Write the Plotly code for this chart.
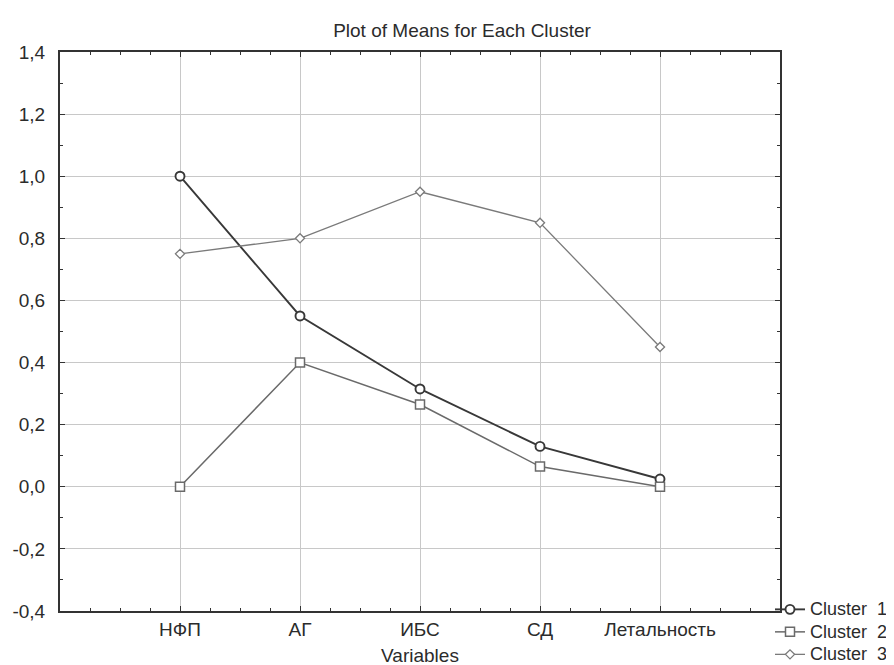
import plotly.graph_objects as go

categories = ["НФП", "АГ", "ИБС", "СД", "Летальность"]
cluster1 = [1.0, 0.55, 0.315, 0.13, 0.025]
cluster2 = [0.0, 0.40, 0.265, 0.065, 0.0]
cluster3 = [0.75, 0.80, 0.95, 0.85, 0.45]
series_names = ["Cluster \u00a01", "Cluster \u00a02", "Cluster \u00a03"]
y_ticks = [-0.4, -0.2, 0.0, 0.2, 0.4, 0.6, 0.8, 1.0, 1.2, 1.4]
y_ticktext = [f"{v:.1f}".replace(".", ",") for v in y_ticks]

xpos = list(range(1, len(categories) + 1))
FONT = "Liberation Sans, Arial, sans-serif"
AX = "#333333"
TXT = "#2b2b2b"
FS = 19
LEG_FS = 18


def legend_label(name):
    return f'<span style="font-size:{LEG_FS}px">{name}</span>'


fig = go.Figure()
fig.add_trace(go.Scatter(
    x=xpos, y=cluster1, name=legend_label(series_names[0]), mode="lines+markers",
    line=dict(color="#383838", width=1.9),
    marker=dict(symbol="circle", size=9, color="white", line=dict(color="#383838", width=1.9)),
))
fig.add_trace(go.Scatter(
    x=xpos, y=cluster2, name=legend_label(series_names[1]), mode="lines+markers",
    line=dict(color="#6a6a6a", width=1.5),
    marker=dict(symbol="square", size=9, color="white", line=dict(color="#6a6a6a", width=1.5)),
))
fig.add_trace(go.Scatter(
    x=xpos, y=cluster3, name=legend_label(series_names[2]), mode="lines+markers",
    line=dict(color="#7a7a7a", width=1.3),
    marker=dict(symbol="diamond", size=7, color="white", line=dict(color="#7a7a7a", width=1.3)),
))

fig.update_layout(
    width=894, height=665,
    margin=dict(l=52, r=122, t=44, b=62, autoexpand=False),
    paper_bgcolor="white", plot_bgcolor="white",
    font=dict(family=FONT, size=FS, color=TXT),
    title=dict(text="Plot of Means for Each Cluster", x=454 / 894, xref="container", xanchor="center",
               y=1 - 22 / 665, yref="container", yanchor="middle",
               font=dict(family=FONT, size=FS, color=TXT)),
    showlegend=True,
    legend=dict(x=(762 - 52) / 720, xanchor="left", y=0.032, yanchor="top", bgcolor="rgba(0,0,0,0)",
                borderwidth=0, font=dict(family=FONT, size=15, color=TXT),
                itemwidth=30, tracegroupgap=0),
)

fig.update_xaxes(
    range=[0, 6], tickmode="array", tickvals=xpos, ticktext=categories,
    showgrid=True, gridcolor="#c8c8c8", gridwidth=1,
    showline=True, linecolor=AX, linewidth=2, mirror="ticks",
    ticks="inside", ticklen=5, tickcolor=AX, tickwidth=1,
    minor=dict(dtick=0.25, tick0=0, ticks="inside", ticklen=3, tickcolor=AX, showgrid=False),
    zeroline=False, automargin=False,
    title=dict(text="Variables", standoff=10, font=dict(family=FONT, size=FS, color=TXT)),
    tickfont=dict(family=FONT, size=FS, color=TXT),
)
fig.update_yaxes(
    range=[-0.4, 1.4], tickmode="array", tickvals=y_ticks, ticktext=y_ticktext,
    showgrid=True, gridcolor="#c8c8c8", gridwidth=1,
    showline=True, linecolor=AX, linewidth=2, mirror="ticks",
    ticks="inside", ticklen=5, tickcolor=AX, tickwidth=1,
    minor=dict(dtick=0.1, tick0=0, ticks="inside", ticklen=3, tickcolor=AX, showgrid=False),
    zeroline=False, automargin=False,
    tickfont=dict(family=FONT, size=FS, color=TXT),
    ticklabelstandoff=9,
)

fig.write_html("out.html")
